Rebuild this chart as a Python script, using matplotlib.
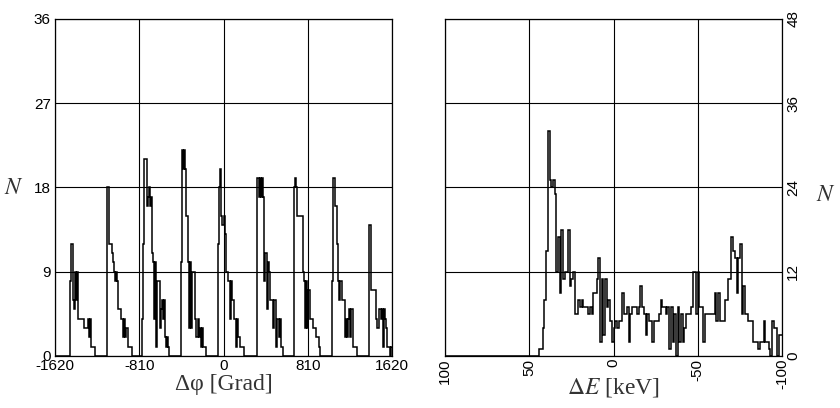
import matplotlib
matplotlib.use("Agg")
import matplotlib.pyplot as plt
import numpy as np

plt.rcParams['mathtext.fontset'] = 'stix'

# phase histogram, 10 degree bins from -1620 to 1620, one row per 360 degrees
phi_edges = np.arange(-1620, 1621, 10)
phi_counts = [
    0, 0, 0, 0, 0, 0, 0, 0, 0, 0, 0, 0, 0, 0, 8, 12, 12, 6, 5, 9, 6, 9, 4, 4, 4, 4, 4, 4, 3, 3, 3, 3, 4, 2, 4, 1,
    1, 1, 0, 0, 0, 0, 0, 0, 0, 0, 0, 0, 0, 0, 18, 18, 12, 12, 12, 11, 10, 9, 8, 9, 8, 5, 5, 4, 4, 2, 4, 2, 3, 3, 1, 1,
    1, 1, 0, 0, 0, 0, 0, 0, 0, 0, 0, 0, 4, 12, 21, 21, 16, 17, 18, 16, 17, 11, 10, 4, 10, 1, 8, 8, 8, 3, 5, 6, 4, 6, 2, 1,
    2, 1, 0, 0, 0, 0, 0, 0, 0, 0, 0, 0, 0, 10, 22, 20, 22, 20, 15, 15, 10, 3, 10, 3, 9, 9, 9, 4, 2, 4, 2, 3, 1, 3, 1, 1,
    1, 0, 0, 0, 0, 0, 0, 0, 0, 0, 0, 0, 0, 12, 18, 20, 15, 14, 15, 13, 9, 9, 8, 8, 4, 8, 6, 6, 4, 4, 1, 4, 2, 2, 1, 1,
    1, 1, 0, 0, 0, 0, 0, 0, 0, 0, 0, 0, 0, 0, 19, 19, 17, 19, 17, 19, 17, 8, 11, 11, 5, 10, 9, 6, 6, 6, 3, 6, 1, 4, 4, 2,
    4, 1, 1, 0, 0, 0, 0, 0, 0, 0, 0, 0, 0, 0, 18, 19, 18, 15, 15, 15, 15, 15, 9, 8, 3, 8, 3, 7, 7, 4, 4, 4, 3, 3, 3, 2,
    2, 2, 1, 0, 0, 0, 0, 0, 0, 0, 0, 0, 0, 0, 8, 19, 19, 16, 16, 12, 8, 6, 8, 8, 6, 6, 6, 2, 4, 2, 4, 5, 2, 5, 1, 1,
    1, 1, 0, 0, 0, 0, 0, 0, 0, 0, 0, 0, 0, 0, 14, 14, 7, 7, 7, 7, 7, 4, 3, 5, 5, 4, 5, 1, 5, 4, 3, 1, 1, 1, 0, 1,
]
phi_ticks = [-1620, -810, 0, 810, 1620]
phi_yticks = [0, 9, 18, 27, 36]

# energy histogram, 1 keV bins running from +100 down to -100
e_edges = np.arange(100, -101, -1)
e_counts = [
    0, 0, 0, 0, 0, 0, 0, 0, 0, 0,
    0, 0, 0, 0, 0, 0, 0, 0, 0, 0,
    0, 0, 0, 0, 0, 0, 0, 0, 0, 0,
    0, 0, 0, 0, 0, 0, 0, 0, 0, 0,
    0, 0, 0, 0, 0, 0, 0, 0, 0, 0,
    0, 0, 0, 0, 0, 0, 1, 1, 4, 8,
    15, 32, 25, 24, 25, 23, 12, 17, 9, 18,
    11, 12, 12, 18, 10, 11, 12, 6, 6, 8,
    7, 8, 7, 7, 7, 6, 7, 6, 9, 9,
    11, 14, 2, 11, 3, 11, 7, 8, 5, 2,
    4, 5, 4, 5, 5, 9, 6, 6, 7, 2,
    6, 7, 7, 7, 6, 7, 10, 7, 6, 3,
    6, 5, 5, 2, 5, 5, 5, 6, 8, 7,
    7, 6, 7, 1, 7, 2, 6, 0, 7, 2,
    6, 2, 4, 6, 6, 6, 7, 12, 12, 6,
    12, 7, 7, 2, 6, 6, 6, 6, 6, 6,
    9, 5, 9, 5, 5, 5, 8, 8, 11, 11,
    17, 15, 14, 9, 14, 16, 6, 10, 6, 6,
    5, 5, 5, 2, 2, 2, 1, 2, 2, 5,
    2, 2, 1, 0, 5, 4, 4, 0, 3, 3,
]
e_ticks = [100, 50, 0, -50, -100]
e_yticks = [0, 12, 24, 36, 48]

tick_font = dict(family='Liberation Sans', size=11)
label_font = dict(family='Liberation Serif', size=17, color='#333333', va='center')

fig = plt.figure(figsize=(8.4, 4.08), dpi=100)
ax1 = fig.add_axes([0.0655, 0.1275, 0.4012, 0.826])
ax2 = fig.add_axes([0.5298, 0.1275, 0.4012, 0.826])

for ax in (ax1, ax2):
    ax.grid(True, color='black', lw=0.8)
    ax.set_axisbelow(True)
    for s in ax.spines.values():
        s.set_linewidth(0.9)
    ax.tick_params(length=0, pad=2)

# left: phase
ax1.stairs(phi_counts, phi_edges, color='black', lw=1.1, baseline=None)
ax1.set_xlim(-1620, 1620)
ax1.set_ylim(0, 36)
ax1.set_xticks(phi_ticks)
ax1.set_xticklabels([str(t) for t in phi_ticks], **tick_font)
ax1.set_yticks(phi_yticks)
ax1.set_yticklabels([str(t) for t in phi_yticks], **tick_font)
ax1.tick_params(axis='y', pad=3)
ax1.set_xlabel('Δφ [Grad]', **label_font)
ax1.xaxis.set_label_coords(0.5, -0.086)
ax1.set_ylabel('$N$', rotation=0, fontsize=17, color='#333333', va='center')
ax1.yaxis.set_label_coords(-0.122, 0.5)

# right: energy, axis runs from +100 to -100
ax2.stairs(e_counts, e_edges, color='black', lw=1.1, baseline=None)
ax2.set_xlim(100, -100)
ax2.set_ylim(0, 48)
ax2.set_xticks(e_ticks)
ax2.set_xticklabels([str(t) for t in e_ticks], rotation=90, **tick_font)
ax2.yaxis.tick_right()
ax2.yaxis.set_label_position('right')
ax2.set_yticks(e_yticks)
ax2.set_yticklabels([str(t) for t in e_yticks], rotation=90, va='center', **tick_font)
ax2.tick_params(axis='y', pad=3)
ax2.set_xlabel(r'$\Delta E$ [keV]', **label_font)
ax2.xaxis.set_label_coords(0.5, -0.095)
ax2.set_ylabel('$N$', rotation=0, fontsize=17, color='#333333', va='center')
ax2.yaxis.set_label_coords(1.13, 0.48)

fig.savefig('out.png', dpi=100)
